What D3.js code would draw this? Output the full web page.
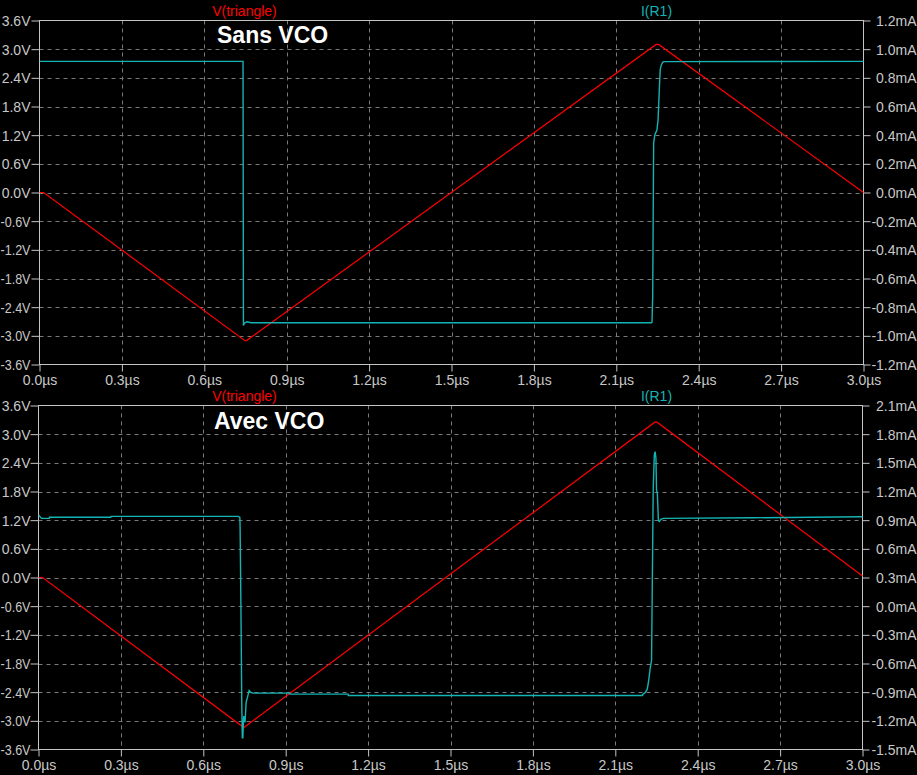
<!DOCTYPE html>
<html><head><meta charset="utf-8">
<script src="https://cdn.jsdelivr.net/npm/d3@7"></script>
<style>
html,body{margin:0;padding:0;background:#000;}
svg{display:block;}
</style>
</head><body>
<script>
// ---------- data ----------
const timeTicks = [0, 0.3, 0.6, 0.9, 1.2, 1.5, 1.8, 2.1, 2.4, 2.7, 3.0];
const timeTickLabels = ["0.0µs","0.3µs","0.6µs","0.9µs","1.2µs","1.5µs","1.8µs","2.1µs","2.4µs","2.7µs","3.0µs"];
const voltTicks = [3.6, 3.0, 2.4, 1.8, 1.2, 0.6, 0.0, -0.6, -1.2, -1.8, -2.4, -3.0, -3.6];
const voltTickLabels = ["3.6V","3.0V","2.4V","1.8V","1.2V","0.6V","0.0V","-0.6V","-1.2V","-1.8V","-2.4V","-3.0V","-3.6V"];
const topCurrentTicks = [1.2, 1.0, 0.8, 0.6, 0.4, 0.2, 0.0, -0.2, -0.4, -0.6, -0.8, -1.0, -1.2];
const topCurrentTickLabels = ["1.2mA","1.0mA","0.8mA","0.6mA","0.4mA","0.2mA","0.0mA","-0.2mA","-0.4mA","-0.6mA","-0.8mA","-1.0mA","-1.2mA"];
const bottomCurrentTicks = [2.1, 1.8, 1.5, 1.2, 0.9, 0.6, 0.3, 0.0, -0.3, -0.6, -0.9, -1.2, -1.5];
const bottomCurrentTickLabels = ["2.1mA","1.8mA","1.5mA","1.2mA","0.9mA","0.6mA","0.3mA","0.0mA","-0.3mA","-0.6mA","-0.9mA","-1.2mA","-1.5mA"];

const panelTitles = ["Sans VCO", "Avec VCO"];
const traceNames = ["V(triangle)", "I(R1)"];

// top panel (Sans VCO)
const topTriangleT = [0, 0.015, 0.748, 0.754, 2.245, 2.254, 3.0];
const topTriangleV = [0, 0, -3.10, -3.10, 3.10, 3.10, 0];
const topCurrentT = [0, 0.741, 0.7425, 0.746, 0.755, 0.7705, 2.2277, 2.230, 2.2325, 2.236, 2.240, 2.248, 2.252, 2.257, 2.260, 2.264, 2.269, 2.272, 3.0];
const topCurrentI = [0.915, 0.915, -0.928, -0.912, -0.902, -0.909, -0.909, -0.905, -0.718, 0.343, 0.401, 0.436, 0.506, 0.738, 0.860, 0.890, 0.909, 0.913, 0.915];

// bottom panel (Avec VCO)
const bottomTriangleT = [0, 0.015, 0.745, 0.750, 2.244, 2.252, 3.0];
const bottomTriangleV = [0, 0, -3.13, -3.13, 3.25, 3.25, 0.03];
const bottomCurrentT = [0, 0.011, 0.039, 0.040, 0.263, 0.264, 0.727, 0.733, 0.734, 0.737, 0.740, 0.742, 0.744, 0.747, 0.752, 0.756, 0.761, 0.767, 0.772, 0.780, 0.915, 0.916, 1.127, 1.128, 2.199, 2.200, 2.209, 2.216, 2.220, 2.223, 2.227, 2.232, 2.238, 2.242, 2.245, 2.248, 2.250, 2.253, 2.257, 2.260, 2.266, 2.275, 2.60, 3.0];
const bottomCurrentI = [0.954, 0.919, 0.919, 0.930, 0.930, 0.940, 0.940, 0.929, 0.831, -0.019, -0.994, -1.378, -1.378, -1.15, -1.215, -1.005, -0.952, -0.882, -0.900, -0.910, -0.910, -0.921, -0.921, -0.935, -0.935, -0.924, -0.903, -0.872, -0.809, -0.746, -0.652, -0.568, 1.216, 1.58, 1.618, 1.548, 1.216, 1.181, 0.894, 0.887, 0.908, 0.919, 0.925, 0.936];

// ---------- drawing ----------
const W = 917, H = 775;
const RED = "#ff0000", CYAN = "#14b4b4", AXIS = "#c4c4c4", GRID = "#7a7a7a", LABEL = "#c8c8c8";
const FONT = "'Liberation Sans', Arial, sans-serif";

const svg = d3.select("body").append("svg").attr("width", W).attr("height", H)
  .style("background", "#000");

const panels = [
  {left: 39.5, right: 863.5, top: 20.5, bottom: 364.5,
   title: panelTitles[0], titleX: 217, titleY: 42.5,
   curTicks: topCurrentTicks, curLabels: topCurrentTickLabels,
   triT: topTriangleT, triV: topTriangleV, curT: topCurrentT, curI: topCurrentI},
  {left: 38.5, right: 862.5, top: 405.5, bottom: 749.5,
   title: panelTitles[1], titleX: 214, titleY: 429,
   curTicks: bottomCurrentTicks, curLabels: bottomCurrentTickLabels,
   triT: bottomTriangleT, triV: bottomTriangleV, curT: bottomCurrentT, curI: bottomCurrentI}
];

panels.forEach(p => {
  const g = svg.append("g");
  const x = d3.scaleLinear().domain([0, 3.0]).range([p.left, p.right]);
  const yV = d3.scaleLinear().domain([-3.6, 3.6]).range([p.bottom, p.top]);
  const yI = d3.scaleLinear().domain([d3.min(p.curTicks), d3.max(p.curTicks)]).range([p.bottom, p.top]);

  // grid
  const grid = g.append("g").attr("stroke", GRID).attr("stroke-width", 1).attr("stroke-dasharray", "4,4");
  timeTicks.slice(1, -1).forEach(t => {
    grid.append("line").attr("x1", Math.round(x(t)) + 0.5).attr("x2", Math.round(x(t)) + 0.5)
      .attr("y1", p.top).attr("y2", p.bottom);
  });
  voltTicks.slice(1, -1).forEach(v => {
    grid.append("line").attr("y1", Math.round(yV(v)) + 0.5).attr("y2", Math.round(yV(v)) + 0.5)
      .attr("x1", p.left).attr("x2", p.right);
  });

  // axes via d3 axis generators
  const bottomAxis = d3.axisBottom(x).tickValues(timeTicks).tickFormat((d, i) => timeTickLabels[i]).tickSize(7).tickPadding(4);
  const leftAxis = d3.axisLeft(yV).tickValues(voltTicks).tickFormat((d, i) => voltTickLabels[i]).tickSize(8).tickPadding(1);
  const rightAxis = d3.axisRight(yI).tickValues(p.curTicks).tickFormat((d, i) => p.curLabels[i]).tickSize(7).tickPadding(2);

  const styleAxis = sel => {
    sel.selectAll("path").remove();
    sel.selectAll("line").attr("stroke", AXIS);
    sel.selectAll("text").attr("fill", LABEL).style("font-family", FONT).style("font-size", "14px");
  };
  g.append("g").attr("transform", `translate(0,${p.bottom})`).call(bottomAxis).call(styleAxis)
    .selectAll("text").attr("dy", "0.71em");
  const la = g.append("g").attr("transform", `translate(${p.left},0)`).call(leftAxis).call(styleAxis);
  la.selectAll("text").attr("dy", "0.36em").attr("x", 30.5 - p.left);
  // keep the widest labels inside the window (the reference crops them at the edge)
  la.selectAll("text").each(function() {
    const w = this.getComputedTextLength();
    if (w > 30) d3.select(this).attr("textLength", 30).attr("lengthAdjust", "spacingAndGlyphs");
  });
  const ra = g.append("g").attr("transform", `translate(${p.right},0)`).call(rightAxis).call(styleAxis);
  ra.selectAll("text").attr("dy", "0.36em").attr("text-anchor", "end").attr("x", W - 0.5 - p.right);

  // frame
  g.append("rect").attr("x", p.left).attr("y", p.top).attr("width", p.right - p.left).attr("height", p.bottom - p.top)
    .attr("fill", "none").attr("stroke", AXIS).attr("stroke-width", 1);

  // traces
  const clipId = "clip" + p.top;
  svg.append("clipPath").attr("id", clipId).append("rect")
    .attr("x", p.left).attr("y", p.top - 2).attr("width", p.right - p.left + 1).attr("height", p.bottom - p.top + 4);
  const tri = p.triT.map((t, i) => [t, p.triV[i]]);
  const cur = p.curT.map((t, i) => [t, p.curI[i]]);
  g.append("path").datum(tri).attr("clip-path", `url(#${clipId})`)
    .attr("d", d3.line().x(d => x(d[0])).y(d => yV(d[1])))
    .attr("fill", "none").attr("stroke", RED).attr("stroke-width", 1.2);
  g.append("path").datum(cur).attr("clip-path", `url(#${clipId})`)
    .attr("d", d3.line().x(d => x(d[0])).y(d => yI(d[1])))
    .attr("fill", "none").attr("stroke", CYAN).attr("stroke-width", 1.4);

  // trace names
  g.append("text").attr("x", 244.5).attr("y", p.top - 5).attr("text-anchor", "middle")
    .attr("fill", RED).style("font-family", FONT).style("font-size", "14px").text(traceNames[0]);
  g.append("text").attr("x", 656.5).attr("y", p.top - 5).attr("text-anchor", "middle")
    .attr("fill", CYAN).style("font-family", FONT).style("font-size", "14px").text(traceNames[1]);

  // title
  g.append("text").attr("x", p.titleX).attr("y", p.titleY).attr("fill", "#ffffff")
    .style("font-family", FONT).style("font-size", "23px").style("font-weight", "bold").text(p.title);
});
</script>
</body></html>
